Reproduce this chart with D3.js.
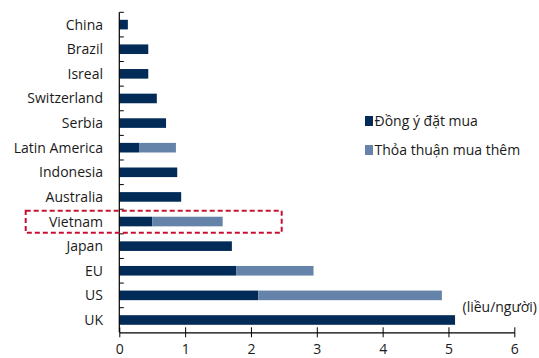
<!DOCTYPE html>
<html>
<head>
<meta charset="utf-8">
<script src="https://cdn.jsdelivr.net/npm/d3@7"></script>
<style>
  html, body { margin: 0; padding: 0; background: #fff; }
  svg { display: block; font-family: "Open Sans", "Noto Sans", sans-serif; }
</style>
</head>
<body>
<svg id="chart" width="539" height="358"></svg>
<script>
// Vaccine doses per person: secured purchases and additional agreements
const categories = ["China", "Brazil", "Isreal", "Switzerland", "Serbia", "Latin America",
  "Indonesia", "Australia", "Vietnam", "Japan", "EU", "US", "UK"];
const ordered = [0.13, 0.44, 0.44, 0.57, 0.71, 0.30, 0.88, 0.94, 0.50, 1.71, 1.78, 2.11, 5.10];
const additional = [0, 0, 0, 0, 0, 0.56, 0, 0, 1.07, 0, 1.17, 2.79, 0];
const seriesNames = ["Đồng ý đặt mua", "Thỏa thuận mua thêm"];
const xTicks = [0, 1, 2, 3, 4, 5, 6];
const unitLabel = "(liều/người)";
const highlighted = "Vietnam";

const colors = ["#022b57", "#6583a9"];
const fontSize = 14;
const textColor = "#1a1a1a";
const svg = d3.select("#chart");

const x = d3.scaleLinear().domain([0, 6]).range([119.3, 514.3]);
const y = d3.scaleBand().domain(categories).range([12.3, 332.3])
  .paddingInner(0.61).paddingOuter(0.305);

const rows = categories.map((c, i) => ({ c, a: ordered[i], b: additional[i] }));

// Stacked bars
const g = svg.append("g");
g.selectAll("rect.a").data(rows).join("rect")
  .attr("x", x(0)).attr("y", d => y(d.c))
  .attr("width", d => x(d.a) - x(0)).attr("height", y.bandwidth())
  .attr("fill", colors[0]);
g.selectAll("rect.b").data(rows.filter(d => d.b > 0)).join("rect")
  .attr("x", d => x(d.a)).attr("y", d => y(d.c))
  .attr("width", d => x(d.a + d.b) - x(d.a)).attr("height", y.bandwidth())
  .attr("fill", colors[1]);

// Category labels
svg.append("g").selectAll("text").data(categories).join("text")
  .attr("x", 103).attr("y", d => y(d) + y.bandwidth() / 2)
  .attr("dy", "0.36em").attr("text-anchor", "end")
  .attr("font-size", fontSize).attr("fill", textColor).text(d => d);

// Vertical axis with ticks on band boundaries
const step = y.step();
const bounds = categories.map(c => y(c) - step * y.paddingOuter());
svg.append("line").attr("x1", x(0)).attr("x2", x(0))
  .attr("y1", y.range()[0]).attr("y2", y.range()[1])
  .attr("stroke", "#000").attr("stroke-width", 1.2);
svg.append("g").selectAll("line").data(bounds).join("line")
  .attr("x1", x(0)).attr("x2", x(0) + 4.5)
  .attr("y1", d => d).attr("y2", d => d)
  .attr("stroke", "#000").attr("stroke-width", 1);

// Horizontal axis
const xAxis = svg.append("g").attr("transform", `translate(0,${332.3})`)
  .call(d3.axisBottom(x).tickValues(xTicks).tickSize(0).tickFormat(d3.format("d")));
xAxis.select(".domain").attr("stroke", "#000").attr("stroke-width", 1.2);
xAxis.selectAll(".tick line").attr("y1", -5).attr("y2", 5).attr("stroke", "#000");
xAxis.selectAll(".tick text").attr("y", 21.5).attr("dy", 0)
  .attr("font-size", fontSize).attr("font-family", "'Open Sans', 'Noto Sans', sans-serif")
  .attr("fill", textColor);

// Unit label
svg.append("text").attr("x", 462.5).attr("y", 311.5)
  .attr("font-size", fontSize).attr("fill", textColor).text(unitLabel);

// Legend
const legend = svg.append("g");
seriesNames.forEach((name, i) => {
  const ly = 116 + i * 29;
  legend.append("rect").attr("x", 365).attr("y", ly).attr("width", 8).attr("height", 10)
    .attr("fill", colors[i]);
  legend.append("text").attr("x", 374.5).attr("y", ly + 10)
    .attr("font-size", fontSize).attr("fill", textColor).text(name);
});

// Highlight box around the Vietnam row
const hy = y(highlighted) - step * y.paddingOuter();
svg.append("rect").attr("x", 25.7).attr("y", hy + 1.5)
  .attr("width", 256).attr("height", step - 2.5)
  .attr("fill", "none").attr("stroke", "#c8102e").attr("stroke-width", 2)
  .attr("stroke-dasharray", "5,3");
</script>
</body>
</html>
